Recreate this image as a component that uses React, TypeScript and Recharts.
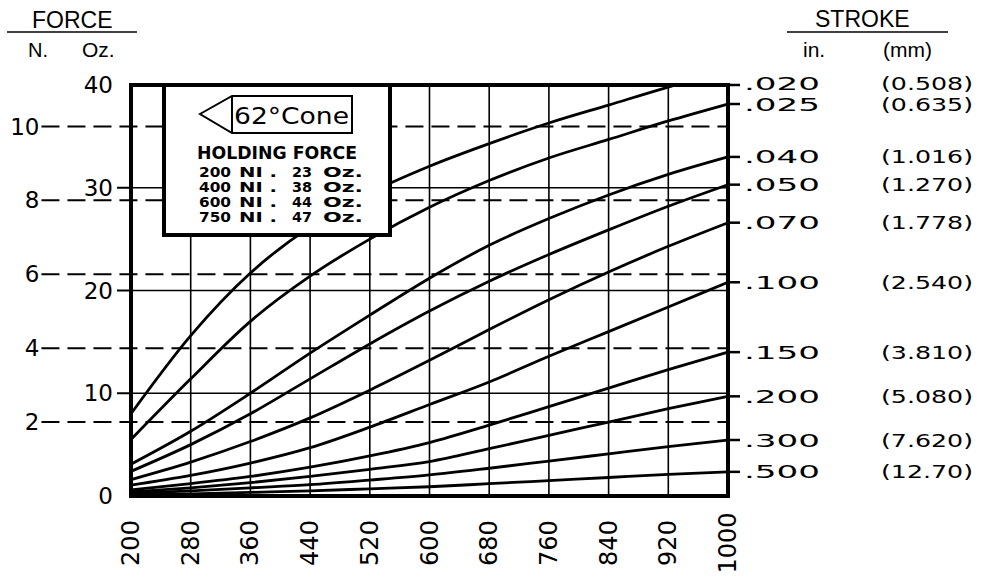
import React from 'react';
import { LineChart, Line, XAxis, YAxis, CartesianGrid, ReferenceLine, ReferenceArea } from 'recharts';

// ampere-turns (NI) on the x axis
const AMPERE_TURNS = [200, 280, 360, 440, 520, 600, 680, 760, 840, 920, 1000];

// force in Oz. for each stroke
const S020 = [8.0, 15.6, 21.7, 26.2, 29.5, 32.1, 34.3, 36.3, 38.05, 39.8, 41.4];
const S025 = [5.5, 11.4, 17.0, 21.4, 25.0, 28.1, 30.7, 32.9, 34.7, 36.5, 38.15];
const S040 = [3.1, 6.3, 10.0, 13.9, 17.6, 21.2, 24.4, 27.0, 29.3, 31.3, 33.0];
const S050 = [2.4, 5.0, 8.0, 11.4, 14.8, 18.0, 20.9, 23.5, 25.9, 28.2, 30.3];
const S070 = [1.6, 3.3, 5.3, 7.6, 10.3, 13.2, 16.2, 19.1, 21.8, 24.3, 26.6];
const S100 = [1.05, 2.0, 3.2, 4.7, 6.7, 8.9, 11.1, 13.6, 16.0, 18.4, 20.8];
const S150 = [0.6, 1.2, 1.9, 2.8, 3.9, 5.2, 6.9, 8.7, 10.5, 12.3, 14.0];
const S200 = [0.4, 0.8, 1.3, 1.9, 2.6, 3.35, 4.6, 5.9, 7.2, 8.5, 9.7];
const S300 = [0.25, 0.5, 0.8, 1.1, 1.55, 2.05, 2.7, 3.4, 4.1, 4.8, 5.45];
const S500 = [0.1, 0.2, 0.35, 0.5, 0.7, 0.9, 1.2, 1.5, 1.8, 2.1, 2.35];

const SERIES = [S020, S025, S040, S050, S070, S100, S150, S200, S300, S500];
const STROKE_IN = ['.020', '.025', '.040', '.050', '.070', '.100', '.150', '.200', '.300', '.500'];
const STROKE_MM = ['(0.508)', '(0.635)', '(1.016)', '(1.270)', '(1.778)', '(2.540)', '(3.810)', '(5.080)', '(7.620)', '(12.70)'];

const OZ_TICKS = [0, 10, 20, 30, 40];
const N_TICKS = [2, 4, 6, 8, 10];
const OZ_PER_N = 3.5969;

const HOLDING_NI = ['200', '400', '600', '750'];
const HOLDING_OZ = ['23', '38', '44', '47'];

const OZ_MAX = 40;
const data = AMPERE_TURNS.map((x, i) => {
  const row: Record<string, number> = { x };
  SERIES.forEach((s, k) => {
    row[`s${k}`] = s[i];
  });
  return row;
});
const STROKE_END = SERIES.map((s) => Math.min(s[s.length - 1], OZ_MAX));

const NUM_FONT = '"DejaVu Sans", sans-serif';
const HEAD_FONT = '"Liberation Sans", Arial, sans-serif';

const XTick = ({ x, y, payload }: any) => {
  const cy = y + 47;
  return (
    <text
      x={x}
      y={cy}
      transform={`rotate(-90 ${x} ${cy})`}
      textAnchor="middle"
      dominantBaseline="central"
      fontSize={24}
      fontFamily={NUM_FONT}
      fill="#000"
    >
      {payload.value}
    </text>
  );
};

const OzTick = ({ x, y, payload }: any) => (
  <g>
    {payload.value > 0 && payload.value < OZ_MAX && (
      <line x1={x + 4} x2={x + 18} y1={y} y2={y} stroke="#000" strokeWidth={2} />
    )}
    <text x={x} y={y} textAnchor="end" dominantBaseline="central" fontSize={23} fontFamily={NUM_FONT} fill="#000">
      {payload.value}
    </text>
  </g>
);

const StrokeTick = ({ x, y, payload }: any) => {
  const i = STROKE_END.indexOf(payload.value);
  if (i < 0) return null;
  // the top label sits a touch higher, as on the original sheet
  const ty = i === 0 ? y - 2 : y;
  return (
    <g fontFamily={NUM_FONT} fontSize={18} fill="#000">
      <text x={x} y={ty} dominantBaseline="central" textLength={76} lengthAdjust="spacingAndGlyphs">
        {STROKE_IN[i]}
      </text>
      <text x={x + 229} y={ty} textAnchor="end" dominantBaseline="central" textLength={92} lengthAdjust="spacingAndGlyphs">
        {STROKE_MM[i]}
      </text>
    </g>
  );
};

const Overlay = () => (
  <svg width={981} height={587} style={{ position: 'absolute', left: 0, top: 0, pointerEvents: 'none' }}>
    {/* headers */}
    <g fontFamily={HEAD_FONT} fill="#000">
      <text x={32} y={28} fontSize={23}>FORCE</text>
      <line x1={7} x2={137} y1={32} y2={32} stroke="#000" strokeWidth={1.5} />
      <text x={28} y={57} fontSize={20}>N.</text>
      <text x={82} y={57} fontSize={21}>Oz.</text>
      <text x={815} y={27} fontSize={23}>STROKE</text>
      <line x1={787} x2={948} y1={32} y2={32} stroke="#000" strokeWidth={1.5} />
      <text x={803} y={57} fontSize={21}>in.</text>
      <text x={883} y={57} fontSize={21}>(mm)</text>
    </g>
    {/* holding force box */}
    <rect x={164} y={85} width={226} height={150} fill="#fff" stroke="#000" strokeWidth={4} />
    <path d="M200 114 L232 96 L352 96 L352 133 L232 133 Z M232 96 L232 133" fill="#fff" stroke="#000" strokeWidth={2} />
    <text x={234} y={124} fontSize={23} fontFamily={NUM_FONT} textLength={115} lengthAdjust="spacingAndGlyphs" fill="#000">
      62°Cone
    </text>
    <g fontFamily={NUM_FONT} fontWeight="bold" fill="#000">
      <text x={197} y={159} fontSize={18} textLength={160} lengthAdjust="spacingAndGlyphs">HOLDING FORCE</text>
      {HOLDING_NI.map((ni, i) => (
        <g key={ni} fontSize={14}>
          <text x={199} y={177 + i * 15} textLength={32} lengthAdjust="spacingAndGlyphs">{ni}</text>
          <text x={239} y={177 + i * 15} textLength={38} lengthAdjust="spacingAndGlyphs">NI .</text>
          <text x={292} y={177 + i * 15} textLength={20} lengthAdjust="spacingAndGlyphs">{HOLDING_OZ[i]}</text>
          <text x={323} y={177 + i * 15} textLength={40} lengthAdjust="spacingAndGlyphs">Oz.</text>
        </g>
      ))}
    </g>
  </svg>
);

export default function App() {
  return (
    <div style={{ position: 'absolute', left: 0, top: 0, width: 981, height: 587, background: '#fff' }}>
      <LineChart width={981} height={587} data={data} margin={{ top: 85, right: 153, bottom: 11, left: 71 }}>
        <CartesianGrid xAxisId="x" yAxisId="oz" stroke="#000" strokeWidth={1.6} />
        <XAxis
          xAxisId="x"
          dataKey="x"
          type="number"
          domain={[200, 1000]}
          ticks={AMPERE_TURNS}
          interval={0}
          axisLine={false}
          tickLine={false}
          tickSize={0}
          tickMargin={0}
          height={80}
          tick={(p: any) => <XTick {...p} />}
        />
        <YAxis
          yAxisId="oz"
          orientation="left"
          type="number"
          domain={[0, OZ_MAX]}
          allowDataOverflow
          ticks={OZ_TICKS}
          interval={0}
          width={60}
          axisLine={false}
          tickLine={false}
          tickSize={14}
          tickMargin={4}
          tick={(p: any) => <OzTick {...p} />}
        />
        <YAxis
          yAxisId="stroke"
          orientation="right"
          type="number"
          domain={[0, OZ_MAX]}
          allowDataOverflow
          ticks={STROKE_END}
          interval={0}
          width={100}
          axisLine={false}
          tickLine={{ stroke: '#000', strokeWidth: 2.5 }}
          tickSize={12}
          tickMargin={4}
          tick={(p: any) => <StrokeTick {...p} />}
        />
        {N_TICKS.map((n) => (
          <ReferenceLine
            key={n}
            xAxisId="x"
            yAxisId="oz"
            segment={[
              { x: 80, y: n * OZ_PER_N },
              { x: 1000, y: n * OZ_PER_N },
            ]}
            ifOverflow="visible"
            stroke="#000"
            strokeWidth={2}
            strokeDasharray="18 8"
            label={{ value: String(n), position: 'left', offset: 2, fill: '#000', fontSize: 23, fontFamily: NUM_FONT }}
          />
        ))}
        {SERIES.map((_, k) => (
          <Line
            key={k}
            xAxisId="x"
            yAxisId="oz"
            type="monotone"
            dataKey={`s${k}`}
            stroke="#000"
            strokeWidth={2.8}
            dot={false}
            isAnimationActive={false}
          />
        ))}
        <ReferenceArea
          xAxisId="x"
          yAxisId="oz"
          x1={200}
          x2={1000}
          y1={0}
          y2={OZ_MAX}
          fill="none"
          fillOpacity={0}
          stroke="#000"
          strokeWidth={4}
          ifOverflow="visible"
        />
      </LineChart>
      <Overlay />
    </div>
  );
}
